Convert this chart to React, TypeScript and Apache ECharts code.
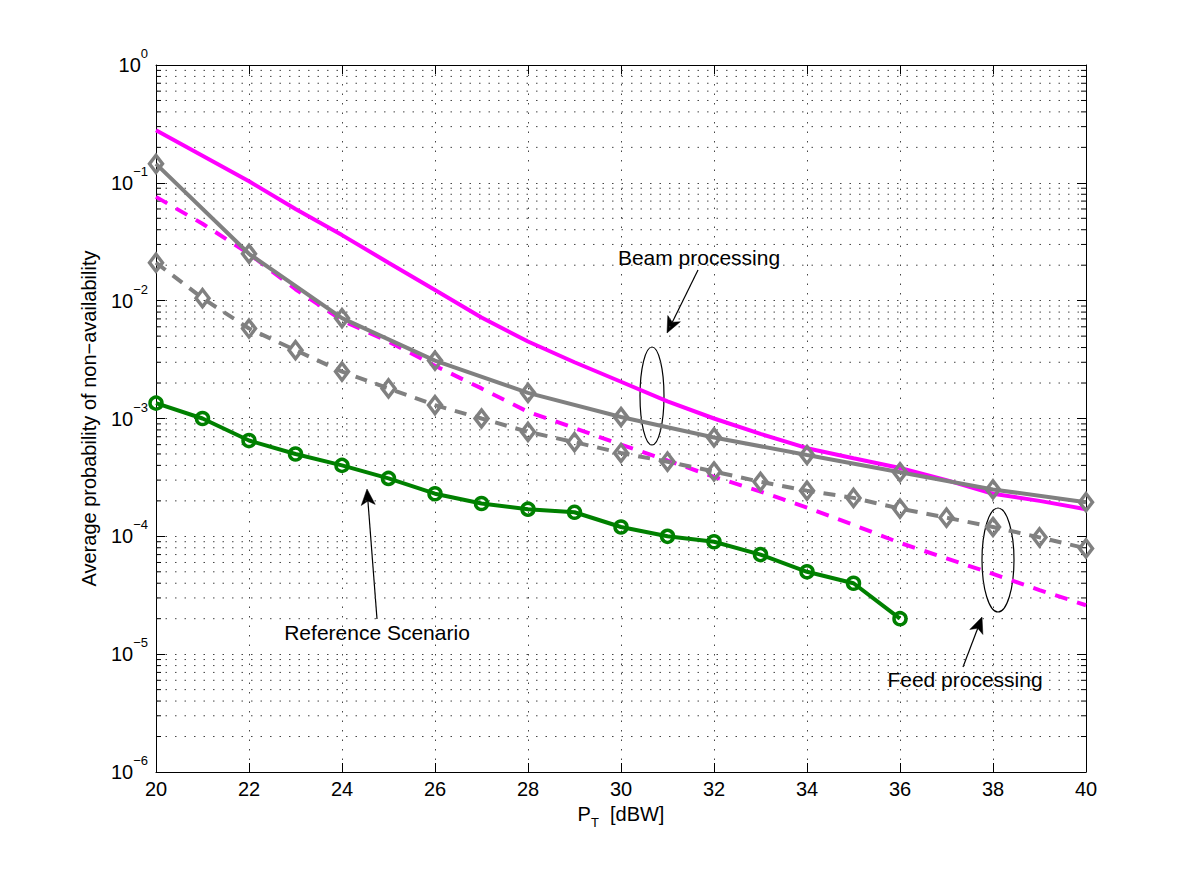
import React, { useEffect, useRef } from "react";
import * as echarts from "echarts";

// ---------- data ----------
const xAll = [20, 21, 22, 23, 24, 25, 26, 27, 28, 29, 30, 31, 32, 33, 34, 35, 36, 37, 38, 39, 40];
const xEven = [20, 22, 24, 26, 28, 30, 32, 34, 36, 38, 40];
const xRef = [20, 21, 22, 23, 24, 25, 26, 27, 28, 29, 30, 31, 32, 33, 34, 35, 36];

// Beam processing, magenta solid (no markers)
const beamMagenta = [0.28, 0.17, 0.103, 0.06, 0.036, 0.021, 0.0123, 0.0072, 0.0045, 0.003, 0.00205,
  0.0014, 0.001, 0.00074, 0.00056, 0.00046, 0.00038, 0.0003, 0.00023, 0.0002, 0.00017];
// Feed processing, magenta dashed (no markers)
const feedMagenta = [0.076, 0.045, 0.025, 0.0125, 0.0068, 0.0045, 0.0028, 0.0018, 0.00114, 0.00083, 0.0006,
  0.00044, 0.00032, 0.00024, 0.000175, 0.000125, 0.000088, 0.000065, 0.000048, 0.000035, 0.000026];
// Beam processing, gray solid with diamonds (even x)
const beamGray = [0.145, 0.025, 0.0071, 0.0031, 0.00165, 0.00103, 0.00069, 0.00049, 0.00035, 0.00025, 0.000195];
// Feed processing, gray dashed with diamonds
const feedGray = [0.021, 0.0105, 0.0058, 0.0038, 0.0025, 0.0018, 0.0013, 0.001, 0.00077, 0.00063, 0.00051,
  0.00043, 0.000355, 0.00029, 0.000244, 0.000212, 0.000172, 0.000144, 0.00012, 0.000098, 0.000079];
// Reference scenario, green with circles
const refGreen = [0.00135, 0.001, 0.00065, 0.0005, 0.0004, 0.00031, 0.00023, 0.00019, 0.00017, 0.00016, 0.00012,
  0.0001, 0.00009, 0.00007, 0.00005, 0.00004, 0.00002];

const decades = [-6, -5, -4, -3, -2, -1];
const minorFactors = [2, 3, 4, 5, 6, 7, 8, 9];

const FONT = "'Liberation Sans', Arial, Helvetica, sans-serif";
const GRID_COLOR = "#444";
const GRID_DASH = [1.5, 8];

function zip(xs: number[], ys: number[]) {
  return xs.map((x, i) => [x, ys[i]]);
}

function arrow(x1: number, y1: number, x2: number, y2: number) {
  const headLen = 16, headW = 7, notch = 4;
  const dx = x2 - x1, dy = y2 - y1;
  const L = Math.hypot(dx, dy);
  const ux = dx / L, uy = dy / L;
  const px = -uy, py = ux;
  const bx = x2 - ux * headLen, by = y2 - uy * headLen;
  const nx = x2 - ux * (headLen - notch), ny = y2 - uy * (headLen - notch);
  return [
    { type: "line", shape: { x1, y1, x2: nx, y2: ny }, style: { stroke: "#000", lineWidth: 1.2 } },
    {
      type: "polygon",
      shape: { points: [[x2, y2], [bx + px * headW, by + py * headW], [nx, ny], [bx - px * headW, by - py * headW]] },
      style: { fill: "#000", stroke: "#000", lineWidth: 0.5 },
    },
  ];
}

function label(text: string, x: number, y: number) {
  return {
    type: "text",
    x,
    y,
    style: { text, fill: "#000", font: `21px ${FONT}`, align: "center", verticalAlign: "middle" },
  };
}

export default function App() {
  const ref = useRef<HTMLDivElement>(null);

  useEffect(() => {
    if (!ref.current) return;
    const chart = echarts.init(ref.current, undefined, { renderer: "svg" });

    const minorValues: number[][] = [];
    decades.forEach((d) => minorFactors.forEach((f) => minorValues.push([20, f * Math.pow(10, d)])));

    const yLabelRich = {
      b: { fontSize: 20, fontFamily: FONT, color: "#000", lineHeight: 36 },
      s: { fontSize: 13, fontFamily: FONT, color: "#000", lineHeight: 15, verticalAlign: "top" },
    };

    const option: any = {
      animation: false,
      backgroundColor: "#fff",
      grid: { left: 156, right: 114, top: 65, bottom: 97, containLabel: false },
      xAxis: [
        {
          type: "value",
          min: 20,
          max: 40,
          interval: 2,
          position: "bottom",
          name: "{b|P}{s|T}{b|  [dBW]}",
          nameLocation: "middle",
          nameGap: 22,
          nameTextStyle: {
            rich: {
              b: { fontSize: 20, fontFamily: FONT, color: "#000", lineHeight: 30 },
              s: { fontSize: 13, fontFamily: FONT, color: "#000", lineHeight: 14, verticalAlign: "bottom" },
            },
          },
          axisLine: { show: true, onZero: false, lineStyle: { color: "#000", width: 1 } },
          axisTick: { show: true, inside: true, length: 9, lineStyle: { color: "#000" } },
          axisLabel: { show: true, fontSize: 20, fontFamily: FONT, color: "#000", margin: 7 },
          splitLine: { show: true, lineStyle: { color: GRID_COLOR, width: 1, type: GRID_DASH } },
        },
        {
          type: "value",
          min: 20,
          max: 40,
          interval: 2,
          position: "top",
          axisLine: { show: true, onZero: false, lineStyle: { color: "#000", width: 1 } },
          axisTick: { show: true, inside: true, length: 9, lineStyle: { color: "#000" } },
          axisLabel: { show: false },
          splitLine: { show: false },
        },
      ],
      yAxis: [
        {
          type: "log",
          logBase: 10,
          min: 1e-6,
          max: 1,
          splitNumber: 6,
          position: "left",
          name: "Average probability of non\u2212availability",
          nameLocation: "middle",
          nameGap: 57,
          nameTextStyle: { fontSize: 20, fontFamily: FONT, color: "#000" },
          axisLine: { show: true, onZero: false, lineStyle: { color: "#000", width: 1 } },
          axisTick: { show: true, inside: true, length: 9, lineStyle: { color: "#000" } },
          axisLabel: {
            show: true,
            margin: 8,
            formatter: (v: number) => {
              const e = Math.round(Math.log10(v));
              return `{b|10}{s|${e < 0 ? "\u2212" + Math.abs(e) : e}}`;
            },
            rich: yLabelRich,
          },
          splitLine: { show: true, lineStyle: { color: GRID_COLOR, width: 1, type: GRID_DASH } },
        },
        {
          type: "log",
          logBase: 10,
          min: 1e-6,
          max: 1,
          splitNumber: 6,
          position: "right",
          axisLine: { show: true, onZero: false, lineStyle: { color: "#000", width: 1 } },
          axisTick: { show: true, inside: true, length: 9, lineStyle: { color: "#000" } },
          axisLabel: { show: false },
          splitLine: { show: false },
        },
      ],
      series: [
        {
          type: "custom",
          name: "minor-grid",
          silent: true,
          z: 1,
          clip: false,
          xAxisIndex: 0,
          yAxisIndex: 0,
          data: minorValues,
          renderItem: (params: any, api: any) => {
            const cs = params.coordSys;
            const y = api.coord([api.value(0), api.value(1)])[1];
            const xl = cs.x, xr = cs.x + cs.width;
            return {
              type: "group",
              children: [
                { type: "line", shape: { x1: xl, y1: y, x2: xr, y2: y }, style: { stroke: GRID_COLOR, lineWidth: 1, lineDash: GRID_DASH } },
                { type: "line", shape: { x1: xl, y1: y, x2: xl + 5, y2: y }, style: { stroke: "#000", lineWidth: 1 } },
                { type: "line", shape: { x1: xr - 5, y1: y, x2: xr, y2: y }, style: { stroke: "#000", lineWidth: 1 } },
              ],
            };
          },
        },
        {
          type: "line",
          name: "Beam processing (magenta)",
          data: zip(xAll, beamMagenta),
          showSymbol: false,
          symbol: "none",
          lineStyle: { color: "#ff00ff", width: 4 },
          z: 3,
        },
        {
          type: "line",
          name: "Feed processing (magenta)",
          data: zip(xAll, feedMagenta),
          showSymbol: false,
          symbol: "none",
          lineStyle: { color: "#ff00ff", width: 4, type: [13, 10] },
          z: 3,
        },
        {
          type: "line",
          name: "Beam processing (gray)",
          data: zip(xEven, beamGray),
          symbol: "diamond",
          symbolSize: [13, 17],
          itemStyle: { color: "rgba(0,0,0,0)", borderColor: "#808080", borderWidth: 3.5 },
          lineStyle: { color: "#808080", width: 4 },
          z: 4,
        },
        {
          type: "line",
          name: "Feed processing (gray)",
          data: zip(xAll, feedGray),
          symbol: "diamond",
          symbolSize: [13, 17],
          itemStyle: { color: "rgba(0,0,0,0)", borderColor: "#808080", borderWidth: 3.5 },
          lineStyle: { color: "#808080", width: 4, type: [12, 9] },
          z: 4,
        },
        {
          type: "line",
          name: "Reference Scenario",
          data: zip(xRef, refGreen),
          symbol: "circle",
          symbolSize: 12,
          itemStyle: { color: "rgba(0,0,0,0)", borderColor: "#008000", borderWidth: 3.5 },
          lineStyle: { color: "#008000", width: 4 },
          z: 5,
        },
      ],
      graphic: [
        label("Beam processing", 699, 257),
        ...arrow(698, 270, 667, 333),
        { type: "ellipse", shape: { cx: 652, cy: 396, rx: 12, ry: 49 }, style: { fill: "none", stroke: "#000", lineWidth: 1.2 } },
        label("Feed processing", 965, 679),
        ...arrow(963, 667, 982, 617),
        { type: "ellipse", shape: { cx: 998, cy: 560, rx: 16, ry: 52 }, style: { fill: "none", stroke: "#000", lineWidth: 1.2 } },
        label("Reference Scenario", 377, 632),
        ...arrow(377, 619, 367, 489),
      ],
    };

    chart.setOption(option);
    return () => chart.dispose();
  }, []);

  return (
    <div
      ref={ref}
      style={{ position: "absolute", left: 0, top: 0, width: 1200, height: 869, background: "#fff" }}
    />
  );
}
